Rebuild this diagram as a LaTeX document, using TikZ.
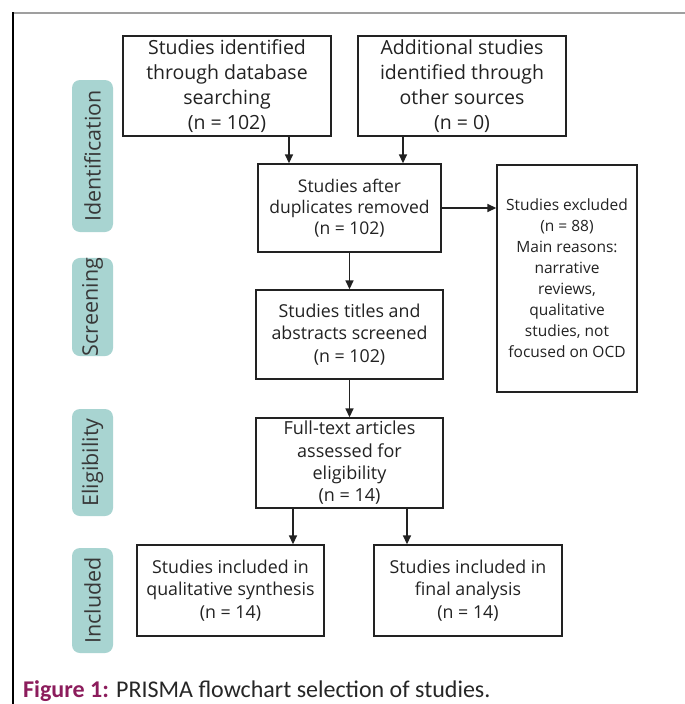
\documentclass[tikz,border=0pt]{standalone}
\usepackage{fontspec}
\setmainfont{Open Sans}
\newfontfamily\capfont{Carlito}
\usetikzlibrary{arrows.meta}
\definecolor{labfill}{RGB}{168,212,209}
\definecolor{capurple}{RGB}{140,28,92}
\definecolor{txt}{RGB}{34,34,34}
\begin{document}
\begin{tikzpicture}[x=1pt,y=-1pt,
 box/.style={draw=txt, line width=1.4pt, align=center, inner sep=0pt, text=txt, font=\fontsize{17.8}{22.5}\selectfont},
 arr/.style={-{Triangle[length=9pt,width=8pt]}, line width=1.6pt, draw=txt},
 stage/.style={fill=labfill, rounded corners=8pt, rotate=90, inner sep=0pt, text=black!78, font=\fontsize{21.5}{25}\selectfont, minimum height=41pt}
]
\useasboundingbox (0,0) rectangle (685,704);
\fill[white] (0,0) rectangle (685,704);
\draw[gray!75, line width=2pt] (13,13) -- (685,13);
\draw[black, line width=1.5pt] (13,12) -- (13,704);

% stage labels
\node[stage, minimum width=152pt] (s1) at (92.5,156) {Identification};
\node[stage, minimum width=90pt] (s2) at (92.5,307) {Screening};
\node[stage, minimum width=107pt] (s3) at (92.5,462.5) {Eligibility};
\node[stage, minimum width=105pt] (s4) at (92.5,600.5) {Included};

% boxes
\node[box, minimum width=208pt, minimum height=100pt, font=\fontsize{19.5}{25}\selectfont] (A) at (227,86) {Studies identified\\through database\\searching\\(n = 102)};
\node[box, minimum width=208pt, minimum height=100pt, font=\fontsize{19.5}{25}\selectfont] (B) at (462,86) {Additional studies\\identified through\\other sources\\(n = 0)};
\node[box, minimum width=183pt, minimum height=88pt, font=\fontsize{17.5}{21}\selectfont] (C) at (349.5,208) {Studies after\\duplicates removed\\(n = 102)};
\node[box, minimum width=140pt, minimum height=227pt, font=\fontsize{15.5}{21}\selectfont] (D) at (567,278.5) {Studies excluded\\(n = 88)\\Main reasons:\\narrative\\reviews,\\qualitative\\studies, not\\focused on OCD};
\node[box, minimum width=187pt, minimum height=89pt] (E) at (349.5,334.5) {Studies titles and\\abstracts screened\\(n = 102)};
\node[box, minimum width=187pt, minimum height=90pt, font=\fontsize{18}{22.3}\selectfont] (F) at (349.5,463) {Full-text articles\\assessed for\\eligibility\\(n = 14)};
\node[box, minimum width=187pt, minimum height=91pt] (G) at (230.5,590.5) {Studies included in\\qualitative synthesis\\(n = 14)};
\node[box, minimum width=188pt, minimum height=91pt] (H) at (468,590.5) {Studies included in\\final analysis\\(n = 14)};

% arrows
\coordinate (xa) at (289,0);
\coordinate (xb) at (403,0);
\coordinate (xg) at (293,0);
\coordinate (xh) at (407,0);
\draw[arr] (A.south -| xa) -- (C.north -| xa);
\draw[arr] (B.south -| xb) -- (C.north -| xb);
\draw[arr] (C.east) -- (C.east -| D.west);
\draw[arr] (C.south) -- (E.north);
\draw[arr] (E.south) -- (F.north);
\draw[arr] (F.south -| xg) -- (G.north -| xg);
\draw[arr] (F.south -| xh) -- (H.north -| xh);

% caption
\node[anchor=base west, inner sep=0pt, text=black!85, font=\capfont\fontsize{24}{28}\selectfont] (cap) at (23,697) {\textcolor{capurple}{\bfseries Figure 1:} PRISMA flowchart selection of studies.};
\end{tikzpicture}
\end{document}
